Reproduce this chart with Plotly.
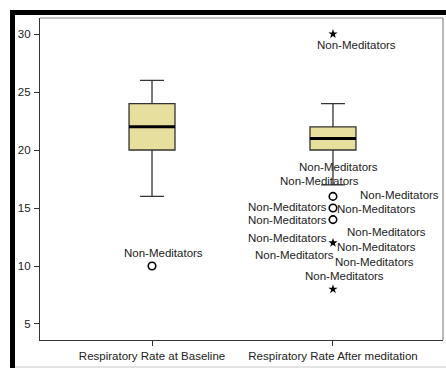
import plotly.graph_objects as go

# Box summaries for the two measurements (breaths per minute)
categories = ["Respiratory Rate at Baseline", "Respiratory Rate After meditation"]
q1 = [20, 20]
median = [22, 21]
q3 = [24, 22]
lower_whisker = [16, 17]
upper_whisker = [26, 24]

# Outlying cases per measurement
outliers = [
    [10],
    [30, 16, 15, 14, 12, 8],
]

# Case labels: (category index, outlier value, label text)
case_labels = [
    (0, 10, "Non-Meditators"),
    (1, 30, "Non-Meditators"),
    (1, 16, "Non-Meditators"),
    (1, 16, "Non-Meditators"),
    (1, 16, "Non-Meditators"),
    (1, 15, "Non-Meditators"),
    (1, 15, "Non-Meditators"),
    (1, 14, "Non-Meditators"),
    (1, 14, "Non-Meditators"),
    (1, 12, "Non-Meditators"),
    (1, 12, "Non-Meditators"),
    (1, 12, "Non-Meditators"),
    (1, 12, "Non-Meditators"),
    (1, 8, "Non-Meditators"),
]
# pixel offsets of each label from its point (dx right, dy up)
label_offsets = [
    (11, 13),
    (24, -11),
    (6, 29), (-13, 15), (67, 1),
    (-45, 1), (44, -1),
    (-45, 0), (54, -12),
    (-45, 5), (44, -4), (-38, -12), (42, -19),
    (12, 13),
]

y_ticks = [5, 10, 15, 20, 25, 30]

W, H = 446, 368
ML, MR, MT, MB = 40, 3, 18, 28
BOX_W = 0.254
FILL = "rgb(231,223,158)"
LINE = "#333333"
FONT = "Liberation Sans, Arial, sans-serif"
FS = 11.5

fig = go.Figure()

xs = list(range(len(categories)))
for i in xs:
    fig.add_trace(go.Box(
        x=[i], q1=[q1[i]], median=[median[i]], q3=[q3[i]],
        lowerfence=[lower_whisker[i]], upperfence=[upper_whisker[i]],
        boxpoints=False, width=BOX_W, whiskerwidth=0.52,
        fillcolor=FILL, line=dict(color=LINE, width=1.3),
        showlegend=False, hoverinfo="skip",
    ))
    # heavy median bar
    fig.add_trace(go.Scatter(
        x=[i - BOX_W / 2, i + BOX_W / 2], y=[median[i], median[i]],
        mode="lines", line=dict(color="black", width=3),
        showlegend=False, hoverinfo="skip",
    ))

# classify outliers: circles beyond 1.5 IQR, stars beyond 3 IQR
circ_x, circ_y, star_x, star_y = [], [], [], []
for i in xs:
    iqr = q3[i] - q1[i]
    for v in outliers[i]:
        if v < q1[i] - 3 * iqr or v > q3[i] + 3 * iqr:
            star_x.append(i); star_y.append(v)
        else:
            circ_x.append(i); circ_y.append(v)

fig.add_trace(go.Scatter(
    x=circ_x, y=circ_y, mode="markers",
    marker=dict(symbol="circle-open", size=7.5, color="black", line=dict(width=1.6)),
    showlegend=False, hoverinfo="skip",
))
fig.add_trace(go.Scatter(
    x=star_x, y=star_y, mode="markers",
    marker=dict(symbol="star", size=7, color="black", line=dict(width=0)),
    showlegend=False, hoverinfo="skip",
))

for (ci, v, txt), (dx, dy) in zip(case_labels, label_offsets):
    fig.add_annotation(
        x=ci, y=v, text=txt, showarrow=False, xanchor="center", yanchor="middle",
        xshift=dx, yshift=dy, font=dict(family=FONT, size=FS, color="#222222"),
    )

# pixel -> paper helpers for frame decorations
pw, ph = W - ML - MR, H - MT - MB


def px(xp):
    return (xp - ML) / pw


def py(yp):
    return (H - MB - yp) / ph


shapes = [
    # gray top and right border of the plot area
    dict(type="line", xref="paper", yref="paper", x0=0, x1=1, y0=1, y1=1,
         line=dict(color="#8a8a8a", width=1.2)),
    dict(type="line", xref="paper", yref="paper", x0=1, x1=1, y0=0, y1=1,
         line=dict(color="#8a8a8a", width=1.2)),
    # heavy outer frame
    dict(type="rect", xref="paper", yref="paper", x0=px(10), x1=px(15), y0=py(368), y1=py(10),
         fillcolor="black", line=dict(width=0)),
    dict(type="rect", xref="paper", yref="paper", x0=px(10), x1=px(446), y0=py(15), y1=py(10),
         fillcolor="black", line=dict(width=0)),
    dict(type="line", xref="paper", yref="paper", x0=px(15), x1=px(446), y0=py(367), y1=py(367),
         line=dict(color="#c8c8c8", width=1)),
]

fig.update_layout(
    width=W, height=H,
    margin=dict(l=ML, r=MR, t=MT, b=MB),
    paper_bgcolor="white", plot_bgcolor="white",
    font=dict(family=FONT, size=FS, color="#222222"),
    shapes=shapes,
    xaxis=dict(
        range=[-0.619, 1.608], tickvals=xs, ticktext=categories,
        showgrid=False, zeroline=False, showline=True, linecolor=LINE, linewidth=1.3,
        ticks="outside", ticklen=5, tickcolor=LINE, tickwidth=1.2,
        tickfont=dict(family=FONT, size=FS, color="#222222"),
    ),
    yaxis=dict(
        range=[3.62, 31.38], tickvals=y_ticks,
        showgrid=False, zeroline=False, showline=True, linecolor=LINE, linewidth=1.3,
        ticks="outside", ticklen=5, tickcolor=LINE, tickwidth=1.2, ticklabelstandoff=1,
        tickfont=dict(family=FONT, size=FS, color="#222222"),
    ),
)

fig.write_html("out.html")
